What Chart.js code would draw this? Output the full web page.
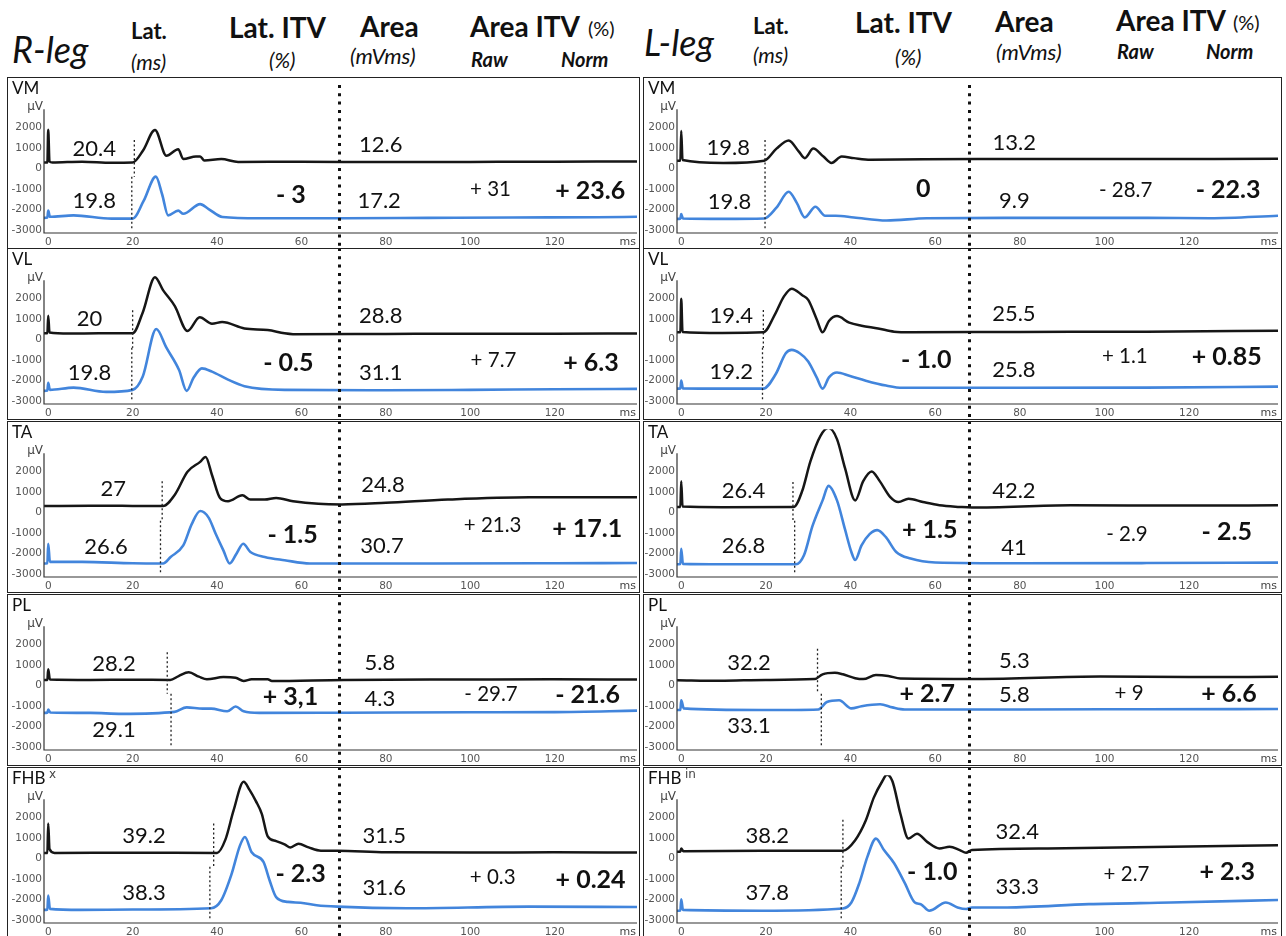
<!DOCTYPE html>
<html>
<head>
<meta charset="utf-8">
<script src="https://cdn.jsdelivr.net/npm/chart.js@4.4.1/dist/chart.umd.min.js"></script>
<style>
  body { margin:0; background:#fff; width:1286px; height:936px; overflow:hidden; position:relative; font-family:Lato, "Open Sans", sans-serif; color:#111; }
  .panel { position:absolute; }
  .panel canvas { position:absolute; left:0; top:0; }
  .frame { position:absolute; left:0; top:0; right:0; bottom:0; border:1.6px solid #222; box-sizing:border-box; pointer-events:none; }
  .hd { position:absolute; white-space:nowrap; line-height:1; }
</style>
</head>
<body>
<script>
// ---- data ----
const muscles = ['VM', 'VL', 'TA', 'PL', 'FHB'];
const xTickVals = [0, 20, 40, 60, 80, 100, 120];
const yTickVals = [2000, 1000, 0, -1000, -2000, -3000];

// R-leg traces [ms, uV]  (black = upper trace, blue = lower trace)
const rVMBlack = [[-1,300],[-0.2,300],[0,1900],[0.3,350],[1,300],[8,340],[15,290],[20,300],[22.5,900],[25.3,1890],[28,630],[30.8,945],[32,470],[35,600],[36,600],[37,400],[41,470],[45,330],[60,340],[80,320],[100,330],[120,340],[139.5,350]];
const rVMBlue = [[-1,-2400],[-0.2,-2380],[0,-2050],[0.4,-2350],[6,-2280],[15,-2440],[20,-2440],[22.6,-1575],[25.5,-390],[27,-1260],[28.4,-2280],[30.8,-2050],[32,-2200],[36,-1730],[38,-1970],[41.3,-2360],[50,-2420],[70,-2420],[90,-2400],[110,-2380],[130,-2370],[139.5,-2350]];
const rVLBlack = [[-1,310],[-0.2,310],[0,1170],[0.3,350],[5,300],[12,310],[20,310],[22.4,1330],[25.3,3050],[27.2,2420],[30,1640],[33,420],[35.9,1090],[38.8,780],[41.2,860],[46.5,550],[52,470],[56,310],[58,270],[80,280],[100,290],[120,290],[139.5,300]];
const rVLBlue = [[-1,-2500],[-0.2,-2480],[0,-2110],[0.4,-2450],[6,-2340],[13.7,-2550],[20,-2450],[22.4,-1800],[25.6,520],[28,-390],[31,-1480],[32.8,-2500],[34.4,-1875],[36.4,-1400],[38.8,-1560],[42.6,-1950],[46.5,-2270],[56,-2450],[80,-2470],[100,-2450],[120,-2420],[139.5,-2400]];
const rTABlack = [[-1,320],[10,340],[20,330],[27.2,320],[30,880],[33,2000],[36,2480],[37.3,2720],[38.8,1840],[40.7,720],[42.6,560],[46,850],[47.9,640],[51.3,640],[54,720],[58,560],[64,430],[69.6,400],[80,480],[94.7,640],[114,750],[139.5,750]];
const rTABlue = [[-1,-2480],[-0.2,-2470],[0,-1520],[0.4,-2400],[8,-2400],[20,-2470],[27.2,-2480],[29,-2160],[32,-1600],[34,-560],[36,80],[38,-240],[39.7,-1040],[41.5,-1840],[43,-2480],[44.6,-2000],[46.2,-1520],[47.9,-1920],[51.3,-2160],[56,-2320],[62,-2480],[90,-2480],[120,-2470],[139.5,-2460]];
const rPLBlack = [[-1,280],[-0.2,280],[0,800],[0.4,300],[10,280],[20,290],[28.9,280],[30.9,470],[33.3,650],[35.7,440],[37.6,310],[41.5,420],[44.4,390],[46.3,230],[48.2,310],[52,310],[53,230],[70,280],[100,300],[120,310],[139.5,300]];
const rPLBlue = [[-1,-1330],[-0.2,-1320],[0,-1170],[0.5,-1310],[10,-1330],[17.4,-1375],[29.9,-1280],[32.8,-1060],[36.6,-1120],[38.6,-1120],[42.4,-1250],[44.4,-1020],[46.3,-1250],[50,-1330],[70,-1320],[100,-1300],[120,-1290],[139.5,-1220]];
const rFHBBlack = [[-1,280],[-0.2,280],[0,1720],[0.3,470],[1.5,280],[20,290],[40,280],[42,940],[43.9,2340],[46.3,3750],[47.7,3360],[49.2,2810],[50.6,2190],[52,1090],[54,860],[56,700],[57.4,550],[59.3,730],[61.7,550],[64.6,390],[68.5,390],[80,310],[100,300],[120,310],[139.5,300]];
const rFHBBlue = [[-1,-2500],[-0.2,-2490],[0,-1800],[0.4,-2450],[7.7,-2500],[20,-2480],[38.6,-2420],[41,-2030],[43.4,-780],[45.4,625],[46.6,1060],[48.2,310],[51,-160],[52.5,-1090],[54,-1875],[56.8,-2110],[59.8,-2150],[63.6,-2270],[68.5,-2340],[85,-2420],[113.8,-2340],[139.5,-2360]];

// L-leg traces
const lVMBlack = [[-1,390],[-0.2,390],[0,1840],[0.3,420],[9.9,280],[19.6,390],[22.5,980],[25.4,1375],[27.8,830],[29.2,515],[31.2,980],[33.6,590],[35.5,280],[37.9,590],[40.8,515],[44.7,440],[70,470],[100,470],[141,480]];
const lVMBlue = [[-1,-2450],[-0.2,-2440],[0,-2220],[0.4,-2430],[9.9,-2450],[19.6,-2430],[22.5,-1900],[25.4,-1125],[27.3,-1670],[29.2,-2375],[31.7,-1860],[34,-2300],[36.5,-2300],[40.8,-2380],[48.5,-2530],[58,-2420],[80,-2400],[110,-2400],[125,-2420],[141,-2300]];
const lVLBlack = [[-1,360],[-0.2,360],[0,2000],[0.3,380],[9.7,330],[19.4,360],[22.3,1300],[24.2,2090],[26.1,2490],[28.6,2170],[30,1940],[32,1000],[33.4,360],[34.9,910],[36.8,1150],[39.7,830],[42.6,680],[46.5,550],[50.3,390],[54.2,360],[80,380],[110,390],[141,440]];
const lVLBlue = [[-1,-2390],[-0.2,-2380],[0,-2000],[0.4,-2380],[9.7,-2390],[19.4,-2390],[22.3,-1690],[24.7,-660],[26.1,-500],[28,-660],[30,-1060],[32,-1840],[33.4,-2390],[34.9,-1840],[36.8,-1600],[39.7,-1760],[43.6,-2000],[48.4,-2240],[52.3,-2350],[80,-2350],[110,-2340],[141,-2290]];
const lTABlack = [[-1,280],[-0.2,280],[0,1540],[0.3,300],[9.7,270],[26.6,280],[28.6,1070],[30.5,2490],[32.9,3750],[34.8,4140],[36.8,3590],[38.7,2170],[41.1,600],[43,1540],[45,2010],[46.9,1540],[49.4,760],[51.3,520],[53.7,680],[57.1,520],[61,360],[65.8,280],[68.7,250],[92,360],[120,350],[141,360]];
const lTABlue = [[-1,-2520],[-0.2,-2510],[0,-1760],[0.4,-2500],[9.7,-2520],[27.1,-2520],[29,-2080],[31,-660],[33.4,600],[34.8,1310],[36.8,600],[38.7,-820],[40.2,-1920],[41.1,-2310],[42.6,-1600],[44.5,-1050],[46.3,-850],[48.4,-1210],[50.8,-1920],[54.2,-2240],[60,-2430],[80,-2470],[110,-2460],[141,-2440]];
const lPLBlack = [[-1,270],[9.2,240],[20,280],[31.5,320],[33.4,555],[36.3,630],[38.2,555],[41.1,365],[43,320],[46,520],[48.9,475],[51.8,350],[70,330],[99,445],[120,420],[141,430]];
const lPLBlue = [[-1,-1190],[-0.2,-1180],[0,-715],[0.6,-1110],[18.9,-1190],[32.4,-1160],[34.4,-800],[37.3,-715],[40.2,-1110],[42.6,-1000],[47,-905],[49.9,-1060],[52.8,-1160],[80,-1160],[110,-1150],[141,-1140]];
const lFHBBlack = [[-1,340],[-0.2,340],[0,500],[0.5,360],[18.9,385],[38.2,385],[41.1,900],[43.6,1860],[45.5,2980],[47.5,3780],[48.6,4100],[49.9,3780],[51.8,2180],[53.7,980],[55.7,1220],[58.1,820],[61,500],[63.4,580],[65.8,420],[67.3,290],[68.7,420],[86.6,500],[115.7,580],[141,660]];
const lFHBBlue = [[-1,-2540],[-0.2,-2530],[0,-1980],[0.4,-2500],[18.9,-2540],[38.2,-2430],[40.2,-2140],[42.1,-1180],[44,100],[46,980],[47.9,420],[50.3,-220],[52.8,-1180],[55.2,-2140],[56.6,-2220],[58.6,-2540],[62.5,-2140],[65.3,-2380],[67.3,-2460],[68.7,-2380],[77,-2380],[96.3,-2220],[115.7,-2140],[141,-2020]];

// printed values
const rLat1 = [20.4, 20, 27, 28.2, 39.2];
const rLat2 = [19.8, 19.8, 26.6, 29.1, 38.3];
const rLatItv = ['- 3', '- 0.5', '- 1.5', '+ 3,1', '- 2.3'];
const rArea1 = ['12.6', '28.8', '24.8', '5.8', '31.5'];
const rArea2 = ['17.2', '31.1', '30.7', '4.3', '31.6'];
const rRaw = ['+ 31', '+ 7.7', '+ 21.3', '- 29.7', '+ 0.3'];
const rNorm = ['+ 23.6', '+ 6.3', '+ 17.1', '- 21.6', '+ 0.24'];

const lLat1 = [19.8, 19.4, 26.4, 32.2, 38.2];
const lLat2 = [19.8, 19.2, 26.8, 33.1, 37.8];
const lLatItv = ['0', '- 1.0', '+ 1.5', '+ 2.7', '- 1.0'];
const lArea1 = ['13.2', '25.5', '42.2', '5.3', '32.4'];
const lArea2 = ['9.9', '25.8', '41', '5.8', '33.3'];
const lRaw = ['- 28.7', '+ 1.1', '- 2.9', '+ 9', '+ 2.7'];
const lNorm = ['- 22.3', '+ 0.85', '- 2.5', '+ 6.6', '+ 2.3'];

// ---- layout (positions / styles only) ----
const rowTops = [77, 248, 421, 594, 767];
const rowH = 172;
const cols = [
  { leg:'R', left:7, width:633, axisW:37, padR:3, xMax:139.5, bigDot:69 },
  { leg:'L', left:643, width:639, axisW:34, padR:4, xMax:141, bigDot:68 }
];
// label anchors in data units [ms, uV]: lat1, lat2, latItv, area1, area2, raw, norm
const rLabelPos = [
  [[10.9,980],[10.9,-1570],[57.5,-1260],[78.8,1180],[78.4,-1570],[104.8,-1020],[128.4,-1100]],
  [[9.8,1015],[9.8,-1640],[56.9,-1140],[78.8,1170],[78.8,-1610],[105.5,-1015],[128.6,-1140]],
  [[15.4,1170],[13.7,-1650],[57.9,-1070],[79.3,1360],[79.1,-1600],[105.3,-640],[127.7,-800]],
  [[15.6,1060],[15.6,-2160],[57.4,-550],[78.6,1125],[78.6,-625],[104.9,-440],[127.8,-470]],
  [[22.7,1125],[22.7,-1690],[59.8,-750],[79.6,1090],[79.6,-1440],[105.3,-910],[128.5,-1020]]
];
const lLabelPos = [
  [[11.1,1015],[11.4,-1640],[57.2,-970],[78.7,1265],[78.7,-1590],[105,-1045],[129.2,-1045]],
  [[11.8,1180],[11.8,-1560],[57.9,-975],[78.6,1260],[78.6,-1480],[104.8,-820],[128.9,-820]],
  [[14.7,1040],[14.7,-1640],[58.7,-820],[78.6,1070],[78.6,-1730],[105.3,-1055],[128.9,-945]],
  [[16,1110],[16,-1980],[58.1,-400],[78.7,1220],[78.7,-430],[105.8,-400],[129.4,-400]],
  [[20.3,1135],[20.3,-1665],[59.3,-670],[79.4,1300],[79.4,-1375],[105.2,-785],[129,-625]]
];
const rLatTop = [1400, 1440, 1530, 1630, 1720];
const lLatTop = [1400, 1450, 1500, 1800, 1900];
const superscripts = ['', '', '', '', 'x'];
const superscriptsL = ['', '', '', '', 'in'];

const headerItems = [
  // text, left, centerY, size, weight, style
  ['R-leg', 12, 50, 36, 400, 'italic'],
  ['Lat.', 131, 32, 22, 700, 'normal'],
  ['(ms)', 131, 62, 21, 400, 'italic'],
  ['Lat. ITV', 229, 28, 28, 700, 'normal'],
  ['(%)', 269, 60, 21, 400, 'italic'],
  ['Area', 360, 27, 28, 700, 'normal'],
  ['(mVms)', 350, 57, 22, 400, 'italic'],
  ['Area ITV', 470, 27, 28, 700, 'normal'],
  ['(%)', 588, 29, 20, 400, 'normal'],
  ['Raw', 471, 60, 20, 700, 'italic'],
  ['Norm', 561, 60, 20, 700, 'italic'],
  ['L-leg', 644, 43, 36, 400, 'italic'],
  ['Lat.', 753, 27, 22, 700, 'normal'],
  ['(ms)', 753, 55, 21, 400, 'italic'],
  ['Lat. ITV', 855, 23, 28, 700, 'normal'],
  ['(%)', 895, 57, 21, 400, 'italic'],
  ['Area', 995, 22, 28, 700, 'normal'],
  ['(mVms)', 996, 53, 22, 400, 'italic'],
  ['Area ITV', 1116, 21, 28, 700, 'normal'],
  ['(%)', 1233, 23, 20, 400, 'normal'],
  ['Raw', 1117, 52, 20, 700, 'italic'],
  ['Norm', 1206, 52, 20, 700, 'italic']
];

const traces = {
  R: [[rVMBlack, rVMBlue], [rVLBlack, rVLBlue], [rTABlack, rTABlue], [rPLBlack, rPLBlue], [rFHBBlack, rFHBBlue]],
  L: [[lVMBlack, lVMBlue], [lVLBlack, lVLBlue], [lTABlack, lTABlue], [lPLBlack, lPLBlue], [lFHBBlack, lFHBBlue]]
};
const values = {
  R: { lat1:rLat1, lat2:rLat2, itv:rLatItv, a1:rArea1, a2:rArea2, raw:rRaw, norm:rNorm, pos:rLabelPos, latTop:rLatTop, sup:superscripts },
  L: { lat1:lLat1, lat2:lLat2, itv:lLatItv, a1:lArea1, a2:lArea2, raw:lRaw, norm:lNorm, pos:lLabelPos, latTop:lLatTop, sup:superscriptsL }
};

// header text
headerItems.forEach(h => {
  const s = document.createElement('div');
  s.className = 'hd';
  s.textContent = h[0];
  s.style.left = h[1] + 'px';
  s.style.top = (h[2] - h[3] * 0.53) + 'px';
  s.style.fontSize = h[3] + 'px';
  s.style.fontWeight = h[4];
  s.style.fontStyle = h[5];
  document.body.appendChild(s);
});

// draws axes lines, latency markers, the long dotted line and printed values
const overlay = {
  id: 'overlay',
  afterDatasetsDraw(chart) {
    const o = chart.options.plugins.overlay;
    const ctx = chart.ctx, a = chart.chartArea, x = chart.scales.x, y = chart.scales.y;
    ctx.save();
    // axes
    ctx.strokeStyle = '#333';
    ctx.lineWidth = 1.2;
    ctx.setLineDash([]);
    ctx.beginPath();
    ctx.moveTo(a.left, y.getPixelForValue(2900));
    ctx.lineTo(a.left, a.bottom);
    ctx.lineTo(a.right, a.bottom);
    ctx.stroke();
    // latency markers
    ctx.strokeStyle = '#222';
    ctx.lineWidth = 1.3;
    ctx.setLineDash([2, 2.5]);
    ctx.beginPath();
    ctx.moveTo(x.getPixelForValue(o.lat1), y.getPixelForValue(o.latTop));
    ctx.lineTo(x.getPixelForValue(o.lat1), y.getPixelForValue(-400));
    ctx.moveTo(x.getPixelForValue(o.lat2), y.getPixelForValue(-400));
    ctx.lineTo(x.getPixelForValue(o.lat2), y.getPixelForValue(-2950));
    ctx.stroke();
    // long dotted line
    ctx.strokeStyle = '#111';
    ctx.lineWidth = 3;
    ctx.setLineDash([3, 5.3]);
    const bx = Math.round(x.getPixelForValue(o.bigDot)) + 0.5;
    ctx.beginPath();
    ctx.moveTo(bx, o.dotStart);
    ctx.lineTo(bx, chart.height);
    ctx.stroke();
    ctx.setLineDash([]);
    // printed numbers
    ctx.fillStyle = '#111';
    ctx.textAlign = 'center';
    ctx.textBaseline = 'middle';
    const fonts = ['400 22px Lato', '400 22px Lato', '700 25px Lato', '400 22px Lato', '400 22px Lato', '400 20.5px Lato', '700 25px Lato'];
    o.texts.forEach((t, i) => {
      ctx.font = fonts[i];
      ctx.fillText(t, x.getPixelForValue(o.pos[i][0]), y.getPixelForValue(o.pos[i][1]));
    });
    // panel name, unit labels
    ctx.textAlign = 'left';
    ctx.font = '400 17px Lato';
    ctx.fillText(o.name, 5, 12);
    if (o.sup) {
      ctx.font = '400 12px "DejaVu Sans"';
      ctx.fillStyle = '#444';
      ctx.fillText(o.sup, 42, 8);
    }
    ctx.fillStyle = '#444';
    ctx.font = '400 12px "DejaVu Sans"';
    ctx.textAlign = 'right';
    ctx.fillText('\u00b5V', a.left - 1, 30);
    ctx.font = '400 11px "DejaVu Sans"';
    ctx.textBaseline = 'top';
    ctx.fillText('ms', a.right - 1, a.bottom + 4);
    ctx.restore();
  }
};

cols.forEach(col => {
  const v = values[col.leg];
  muscles.forEach((m, r) => {
    const div = document.createElement('div');
    div.className = 'panel';
    div.style.left = col.left + 'px';
    div.style.top = rowTops[r] + 'px';
    div.style.width = col.width + 'px';
    div.style.height = rowH + 'px';
    const cv = document.createElement('canvas');
    cv.width = col.width;
    cv.height = rowH;
    div.appendChild(cv);
    const fr = document.createElement('div');
    fr.className = 'frame';
    div.appendChild(fr);
    document.body.appendChild(div);

    const [black, blue] = traces[col.leg][r];
    new Chart(cv, {
      type: 'line',
      data: {
        datasets: [
          { data: black.map(p => ({ x:p[0], y:p[1] })), borderColor:'#161616', borderWidth:2.5, pointRadius:0, cubicInterpolationMode:'monotone', fill:false },
          { data: blue.map(p => ({ x:p[0], y:p[1] })), borderColor:'#4285dc', borderWidth:2.6, pointRadius:0, cubicInterpolationMode:'monotone', fill:false }
        ]
      },
      options: {
        responsive: false,
        animation: false,
        events: [],
        layout: { padding: { left:0, right:col.padR, top:1, bottom:1 } },
        plugins: {
          legend: { display:false },
          tooltip: { enabled:false },
          overlay: {
            name: m,
            sup: v.sup[r],
            lat1: v.lat1[r],
            lat2: v.lat2[r],
            latTop: v.latTop[r],
            bigDot: col.bigDot,
            dotStart: r === 0 ? 8 : 0,
            pos: v.pos[r],
            texts: [String(v.lat1[r]), String(v.lat2[r]), v.itv[r], v.a1[r], v.a2[r], v.raw[r], v.norm[r]]
          }
        },
        scales: {
          x: {
            type: 'linear', min: -1, max: col.xMax,
            grid: { display:false, drawTicks:false },
            border: { display:false },
            afterBuildTicks: s => { s.ticks = xTickVals.map(t => ({ value:t })); },
            afterFit: s => { s.height = 15; },
            ticks: { font:{ family:'DejaVu Sans', size:10.5 }, color:'#555', padding:3, maxRotation:0, autoSkip:false, callback: val => String(val) }
          },
          y: {
            type: 'linear', min: -3140, max: 4070,
            grid: { display:false, drawTicks:false },
            border: { display:false },
            afterBuildTicks: s => { s.ticks = yTickVals.map(t => ({ value:t })); },
            afterFit: s => { s.width = col.axisW; },
            ticks: { font:{ family:'DejaVu Sans', size:10.5 }, color:'#555', padding:2, autoSkip:false, callback: val => String(val) }
          }
        }
      },
      plugins: [overlay]
    });
  });
});
</script>
</body>
</html>
